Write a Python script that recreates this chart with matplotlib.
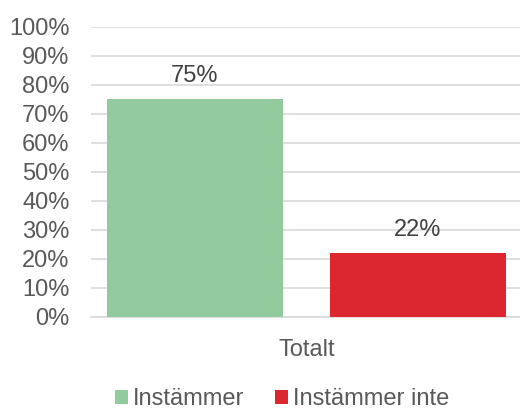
import matplotlib
matplotlib.use("Agg")
import matplotlib.pyplot as plt
from matplotlib.patches import Patch

categories = ["Totalt"]
series_names = ["Instämmer", "Instämmer inte"]
values = [75, 22]
colors = ["#92CA9E", "#DC2630"]
yticks = list(range(0, 101, 10))
ytick_labels = [f"{v}%" for v in yticks]

plt.rcParams['font.family'] = ['Liberation Sans', 'DejaVu Sans']
fig = plt.figure(figsize=(5.2, 4.12), dpi=100)
W, H = 520, 412
ax_left, ax_right = 91, 521
ax_top, ax_bottom = 26.5, 316.5
ax = fig.add_axes([ax_left / W, 1 - ax_bottom / H, (ax_right - ax_left) / W, (ax_bottom - ax_top) / H])

positions = [-0.5, 0.5]
bars = ax.bar(positions, values, width=0.79, color=colors, zorder=3)
for p, v in zip(positions, values):
    ax.text(p, v + 4, f"{v}%", ha="center", va="bottom", fontsize=17, color="#404040")

ax.set_xlim(-0.966, 0.962)
ax.set_ylim(0, 100)
ax.set_yticks(yticks)
ax.set_yticklabels(ytick_labels)
ax.set_xticks([0])
ax.set_xticklabels(categories)
ax.tick_params(axis="both", length=0, labelsize=17, colors="#595959")
ax.tick_params(axis="y", pad=15.5)
ax.tick_params(axis="x", pad=16)
ax.yaxis.grid(True, color="#D9D9D9", linewidth=1.2, zorder=0)
for s in ["top", "right", "left"]:
    ax.spines[s].set_visible(False)
ax.spines["bottom"].set_color("#D9D9D9")
ax.spines["bottom"].set_linewidth(1.2)

handles = [Patch(facecolor=c, edgecolor="none") for c in colors]
fig.legend(handles, series_names, loc="center", bbox_to_anchor=(282 / W, 1 - 399 / H),
           ncol=2, frameon=False, fontsize=17, handlelength=0.55, handleheight=0.55,
           handletextpad=0.2, columnspacing=1.3, labelcolor="#595959",
           borderpad=0.1)

fig.savefig("out.png", dpi=100)
